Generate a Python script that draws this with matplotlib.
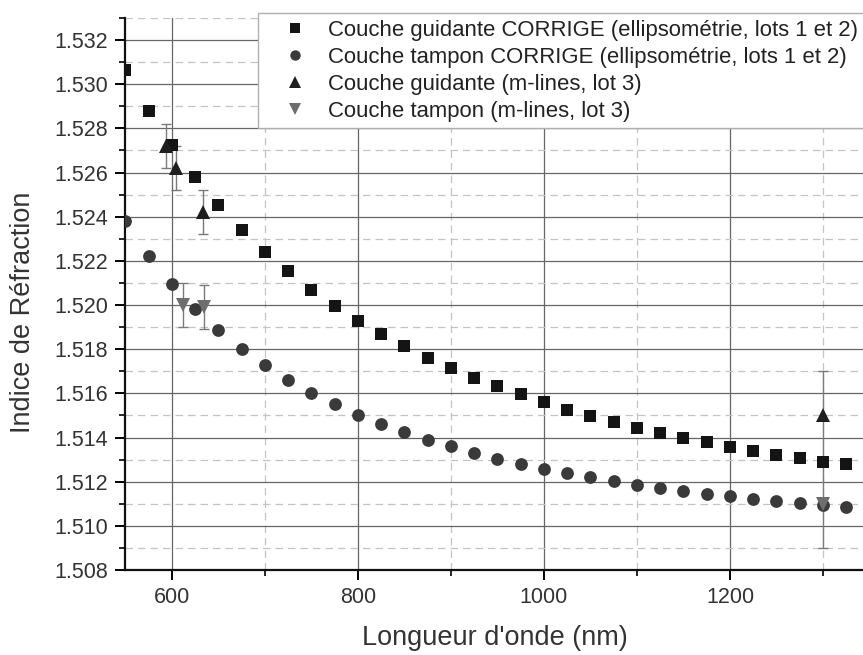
import matplotlib
matplotlib.use('Agg')
import matplotlib.pyplot as plt
from matplotlib.lines import Line2D
from matplotlib.ticker import MultipleLocator, FormatStrFormatter

plt.rcParams['font.family'] = ['Liberation Sans', 'DejaVu Sans']

# ellipsometrie (lots 1 et 2), every 25 nm
wl = [550, 575, 600, 625, 650, 675, 700, 725, 750, 775, 800, 825, 850, 875,
      900, 925, 950, 975, 1000, 1025, 1050, 1075, 1100, 1125, 1150, 1175,
      1200, 1225, 1250, 1275, 1300, 1325]
n_guidante = [1.53065, 1.52880, 1.52724, 1.52580, 1.52455, 1.52342, 1.52239, 1.52152,
              1.52070, 1.51997, 1.51928, 1.51869, 1.51813, 1.51762, 1.51714, 1.51670,
              1.51632, 1.51595, 1.51560, 1.51526, 1.51498, 1.51472, 1.51445, 1.51422,
              1.51398, 1.51378, 1.51358, 1.51339, 1.51322, 1.51306, 1.51291, 1.51278]
n_tampon = [1.52379, 1.52224, 1.52097, 1.51980, 1.51888, 1.51803, 1.51729, 1.51661,
            1.51603, 1.51552, 1.51504, 1.51461, 1.51426, 1.51389, 1.51360, 1.51330,
            1.51304, 1.51282, 1.51259, 1.51238, 1.51219, 1.51203, 1.51187, 1.51171,
            1.51158, 1.51146, 1.51133, 1.51123, 1.51114, 1.51104, 1.51094, 1.51085]

# m-lines (lot 3)
wl_ml_guid = [594, 604, 633, 1300]
n_ml_guid = [1.5272, 1.5262, 1.5242, 1.5150]
err_ml_guid = [0.001, 0.001, 0.001, 0.002]
wl_ml_tamp = [612, 634, 1300]
n_ml_tamp = [1.5200, 1.5199, 1.5110]
err_ml_tamp = [0.001, 0.001, 0.002]

labels = ['Couche guidante CORRIGE (ellipsométrie, lots 1 et 2)',
          'Couche tampon CORRIGE (ellipsométrie, lots 1 et 2)',
          'Couche guidante (m-lines, lot 3)',
          'Couche tampon (m-lines, lot 3)']

fig = plt.figure(figsize=(8.63, 6.55), dpi=100)
ax = fig.add_axes([0.1454, 0.1298, 0.8621, 0.8427])

c_sq = '#141414'
c_ci = '#3a3a3a'
c_up = '#1e1e1e'
c_dn = '#6e6e6e'
c_err = '#7a7a7a'

ax.errorbar(wl_ml_guid, n_ml_guid, yerr=err_ml_guid, fmt='none', ecolor=c_err,
            elinewidth=1, capsize=3.6, capthick=1, zorder=3)
ax.errorbar(wl_ml_tamp, n_ml_tamp, yerr=err_ml_tamp, fmt='none', ecolor=c_err,
            elinewidth=1, capsize=3.6, capthick=1, zorder=3)
ax.plot(wl, n_guidante, 's', color=c_sq, ms=8.5, mew=0, zorder=4)
ax.plot(wl, n_tampon, 'o', color=c_ci, ms=9.2, mew=0, zorder=4)
ax.plot(wl_ml_guid, n_ml_guid, '^', color=c_up, ms=10.5, mew=0, zorder=5)
ax.plot(wl_ml_tamp, n_ml_tamp, 'v', color=c_dn, ms=10.5, mew=0, zorder=5)

ax.set_xlim(550, 1350)
ax.set_ylim(1.508, 1.533)
ax.xaxis.set_major_locator(MultipleLocator(200))
ax.xaxis.set_minor_locator(MultipleLocator(100))
ax.yaxis.set_major_locator(MultipleLocator(0.002))
ax.yaxis.set_minor_locator(MultipleLocator(0.001))
ax.yaxis.set_major_formatter(FormatStrFormatter('%.3f'))

ax.grid(which='major', color='#666666', linewidth=0.9, linestyle='-', zorder=0)
ax.grid(which='minor', color='#c4c4c4', linewidth=0.9, linestyle=(0, (6, 4)), zorder=0)
ax.set_axisbelow(True)

for s in ['top', 'right']:
    ax.spines[s].set_visible(False)
for s in ['left', 'bottom']:
    ax.spines[s].set_linewidth(1.6)
    ax.spines[s].set_color('#111111')

ax.tick_params(which='major', direction='out', length=7.5, width=1.4,
               labelsize=15.5, labelcolor='#333333', pad=5)
ax.tick_params(which='minor', direction='out', length=4, width=1.2)

ax.set_xlabel("Longueur d'onde (nm)", fontsize=19.5, color='#333333')
ax.set_ylabel('Indice de Réfraction', fontsize=19.5, color='#333333')
ax.xaxis.set_label_coords(0.4966, -0.1)
ax.yaxis.set_label_coords(-0.12, 0.4665)

handles = [Line2D([], [], ls='none', marker='s', color=c_sq, ms=6.5, mew=0),
           Line2D([], [], ls='none', marker='o', color=c_ci, ms=7.5, mew=0),
           Line2D([], [], ls='none', marker='^', color=c_up, ms=8.5, mew=0),
           Line2D([], [], ls='none', marker='v', color=c_dn, ms=8.5, mew=0)]
leg = fig.legend(handles, labels, loc='upper left', bbox_to_anchor=(258 / 863, 1 - 13 / 655),
                 fontsize=15.9, frameon=True, fancybox=False, framealpha=1,
                 edgecolor='#b0b0b0', labelspacing=0.27, handlelength=2.75,
                 handletextpad=0.1, borderpad=0.3, borderaxespad=0)
leg.get_frame().set_linewidth(1.0)
for t in leg.get_texts():
    t.set_color('#222222')

fig.savefig('out.png', dpi=100)
